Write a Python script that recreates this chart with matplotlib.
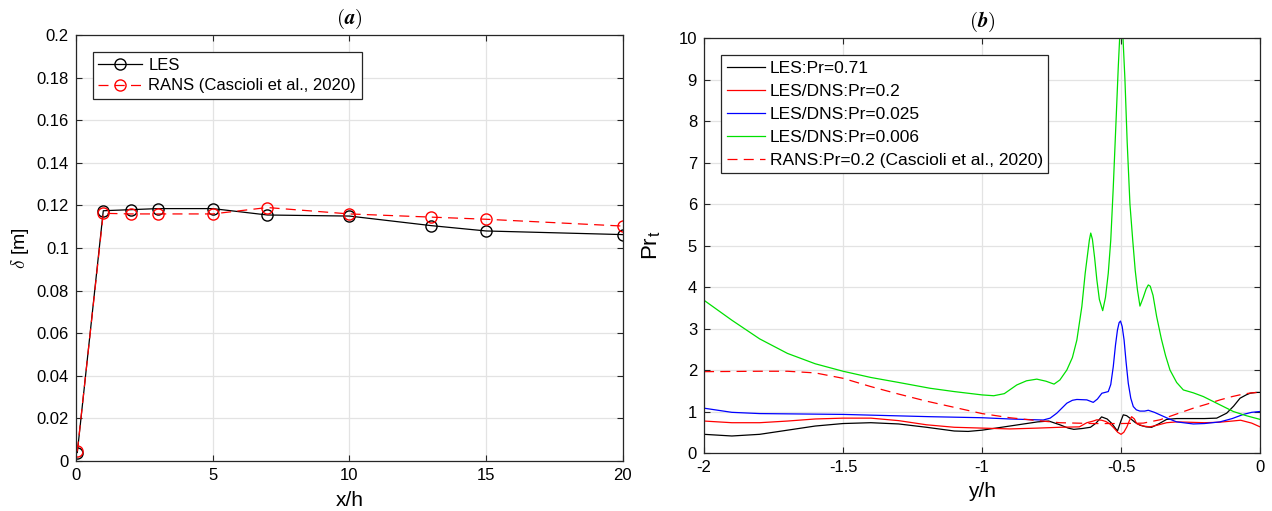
import numpy as np
import matplotlib
matplotlib.use("Agg")
import matplotlib.pyplot as plt

plt.rcParams['font.family'] = ['Liberation Sans', 'DejaVu Sans']
plt.rcParams['mathtext.fontset'] = 'cm'

# (a) boundary layer thickness
x_les = [0.05, 1, 2, 3, 5, 7, 10, 13, 15, 20]
d_les = [0.004, 0.1175, 0.118, 0.1185, 0.1185, 0.1155, 0.115, 0.1105, 0.108, 0.1063]
x_rans = [0.05, 1, 2, 3, 5, 7, 10, 13, 15, 20]
d_rans = [0.0045, 0.1163, 0.116, 0.116, 0.116, 0.119, 0.116, 0.1145, 0.1135, 0.1103]

# (b) turbulent Prandtl number
y_k = [-2.0, -1.9, -1.8, -1.7, -1.6, -1.5, -1.4, -1.3, -1.2, -1.1, -1.05, -1.0, -0.9,
       -0.8, -0.76, -0.72, -0.69, -0.67, -0.64, -0.61, -0.59, -0.57, -0.55, -0.533,
       -0.513, -0.5, -0.492, -0.48, -0.468, -0.45, -0.432, -0.41, -0.39, -0.365,
       -0.336, -0.3, -0.2, -0.156, -0.12, -0.095, -0.072, -0.05, -0.036, -0.015, 0.0]
pr_k = [0.45, 0.41, 0.45, 0.55, 0.65, 0.71, 0.73, 0.70, 0.62, 0.53, 0.52, 0.55, 0.65,
        0.75, 0.77, 0.68, 0.60, 0.57, 0.59, 0.62, 0.72, 0.87, 0.82, 0.71,
        0.53, 0.78, 0.92, 0.90, 0.84, 0.74, 0.67, 0.63, 0.62, 0.70,
        0.81, 0.83, 0.83, 0.84, 0.96, 1.13, 1.32, 1.40, 1.44, 1.46, 1.46]

y_r = [-2.0, -1.9, -1.8, -1.7, -1.6, -1.5, -1.4, -1.3, -1.2, -1.1, -1.0, -0.9,
       -0.8, -0.72, -0.65, -0.623, -0.6, -0.587, -0.57, -0.555, -0.54, -0.528,
       -0.512, -0.5, -0.49, -0.479, -0.47, -0.462, -0.452, -0.444, -0.42, -0.396,
       -0.37, -0.336, -0.3, -0.25, -0.2, -0.15, -0.1, -0.07, -0.03, 0.0]
pr_r = [0.77, 0.73, 0.73, 0.77, 0.82, 0.84, 0.84, 0.78, 0.68, 0.62, 0.60, 0.58,
        0.60, 0.62, 0.63, 0.73, 0.77, 0.80, 0.79, 0.76, 0.70, 0.62,
        0.50, 0.45, 0.50, 0.63, 0.78, 0.875, 0.82, 0.71, 0.65, 0.63,
        0.67, 0.73, 0.75, 0.74, 0.73, 0.74, 0.77, 0.79, 0.72, 0.63]

y_b = [-2.0, -1.9, -1.8, -1.5, -1.187, -1.0, -0.9, -0.78, -0.755, -0.731, -0.71,
       -0.695, -0.675, -0.659, -0.623, -0.6, -0.585, -0.569, -0.546, -0.537, -0.528,
       -0.52, -0.513, -0.507, -0.502, -0.496, -0.489, -0.482, -0.474, -0.465, -0.456,
       -0.445, -0.432, -0.415, -0.402, -0.38, -0.36, -0.33, -0.3, -0.24, -0.2,
       -0.144, -0.1, -0.06, -0.03, 0.0]
pr_b = [1.08, 0.98, 0.95, 0.93, 0.875, 0.85, 0.82, 0.795, 0.84, 0.96, 1.10,
        1.20, 1.27, 1.29, 1.28, 1.22, 1.30, 1.44, 1.48, 1.65, 2.08,
        2.60, 2.96, 3.14, 3.18, 3.05, 2.72, 2.20, 1.68, 1.32, 1.12,
        1.04, 1.01, 1.01, 1.03, 0.98, 0.92, 0.83, 0.75, 0.70, 0.71,
        0.75, 0.83, 0.93, 0.98, 1.00]

y_g = [-2.0, -1.9, -1.8, -1.7, -1.6, -1.5, -1.4, -1.3, -1.187, -1.1, -1.0, -0.958,
       -0.92, -0.875, -0.84, -0.803, -0.77, -0.741, -0.72, -0.695, -0.675, -0.659,
       -0.641, -0.629, -0.614, -0.609, -0.603, -0.595, -0.587, -0.578, -0.566, -0.556,
       -0.546, -0.537, -0.528, -0.518, -0.51, -0.505, -0.499, -0.493, -0.486, -0.478,
       -0.468, -0.458, -0.449, -0.441, -0.432, -0.42, -0.41, -0.402, -0.395, -0.385,
       -0.372, -0.355, -0.34, -0.324, -0.3, -0.276, -0.24, -0.204, -0.144, -0.096,
       -0.05, 0.0]
pr_g = [3.68, 3.20, 2.75, 2.40, 2.15, 1.97, 1.82, 1.70, 1.56, 1.48, 1.40, 1.38,
        1.43, 1.64, 1.74, 1.78, 1.73, 1.66, 1.76, 2.00, 2.30, 2.72,
        3.53, 4.33, 5.13, 5.30, 5.15, 4.70, 4.17, 3.70, 3.43, 3.75,
        4.33, 5.13, 6.40, 8.00, 9.30, 10.0, 10.3, 10.0, 9.00, 7.50,
        6.00, 5.13, 4.40, 3.93, 3.54, 3.75, 3.95, 4.05, 4.02, 3.80,
        3.29, 2.75, 2.35, 2.00, 1.70, 1.52, 1.45, 1.36, 1.16, 1.00,
        0.90, 0.81]

y_rans = [-2.0, -1.8, -1.7, -1.6, -1.5, -1.4, -1.3, -1.2, -1.1, -1.0, -0.9, -0.8,
          -0.72, -0.6, -0.5, -0.42, -0.36, -0.3, -0.24, -0.19, -0.144, -0.1, -0.06,
          -0.03, 0.0]
pr_rans = [1.96, 1.97, 1.97, 1.93, 1.80, 1.60, 1.42, 1.25, 1.10, 0.95, 0.85, 0.78,
           0.73, 0.71, 0.71, 0.72, 0.80, 0.94, 1.08, 1.18, 1.28, 1.36, 1.42,
           1.45, 1.46]

fig = plt.figure(figsize=(12.72, 5.11), dpi=100)
ax1 = fig.add_axes([0.0597, 0.0978, 0.430, 0.8337])
ax2 = fig.add_axes([0.5535, 0.1135, 0.4371, 0.8121])

for ax in (ax1, ax2):
    ax.grid(True, color='#e3e3e3', linewidth=0.9)
    ax.set_axisbelow(True)
    ax.tick_params(direction='in', top=True, right=True, labelsize=12,
                   length=4, color='#262626', pad=5)
    for s in ax.spines.values():
        s.set_color('#262626')
        s.set_linewidth(0.9)

ax1.plot(x_les, d_les, '-o', color='black', mfc='none', ms=8, lw=0.9, label='LES')
ax1.plot(x_rans, d_rans, '--o', color='red', mfc='none', ms=8, lw=0.9,
         dashes=(8, 5), label='RANS (Cascioli et al., 2020)')
ax1.set_xlim(0, 20)
ax1.set_ylim(0, 0.2)
ax1.set_xticks([0, 5, 10, 15, 20])
ax1.set_yticks(np.arange(0, 0.201, 0.02))
ax1.set_yticklabels(['0', '0.02', '0.04', '0.06', '0.08', '0.1', '0.12', '0.14',
                     '0.16', '0.18', '0.2'])
ax1.set_xlabel('x/h', fontsize=15, labelpad=6)
ax1.set_ylabel(r'$\delta$ [m]', fontsize=14, labelpad=4)
ax1.set_title(r'$\mathbf{(}\boldsymbol{a}\mathbf{)}$', fontsize=15, pad=8)
leg1 = ax1.legend(loc='upper left', fontsize=12, fancybox=False, framealpha=1,
                  edgecolor='#262626', borderaxespad=1.0, handlelength=2.6,
                  handletextpad=0.4, labelspacing=0.35, borderpad=0.35)
leg1.get_frame().set_linewidth(0.9)

ax2.plot(y_k, pr_k, color='black', lw=0.9, label='LES:Pr=0.71')
ax2.plot(y_r, pr_r, color='red', lw=0.9, label='LES/DNS:Pr=0.2')
ax2.plot(y_b, pr_b, color='blue', lw=0.9, label='LES/DNS:Pr=0.025')
ax2.plot(y_g, pr_g, color='#00e000', lw=0.9, label='LES/DNS:Pr=0.006')
ax2.plot(y_rans, pr_rans, color='red', lw=0.9, dashes=(8, 5),
         label='RANS:Pr=0.2 (Cascioli et al., 2020)')
ax2.set_xlim(-2, 0)
ax2.set_ylim(0, 10)
ax2.set_xticks([-2, -1.5, -1, -0.5, 0])
ax2.set_xticklabels(['-2', '-1.5', '-1', '-0.5', '0'])
ax2.set_yticks(range(0, 11))
ax2.set_xlabel('y/h', fontsize=15, labelpad=5)
ax2.set_ylabel(r'Pr$_\mathregular{t}$', fontsize=16, labelpad=11)
ax2.set_title(r'$\mathbf{(}\boldsymbol{b}\mathbf{)}$', fontsize=15, pad=8)
leg2 = ax2.legend(loc='upper left', fontsize=12.5, fancybox=False, framealpha=1,
                  edgecolor='#262626', borderaxespad=1.0, handlelength=2.2,
                  handletextpad=0.3, labelspacing=0.45, borderpad=0.3)
leg2.get_frame().set_linewidth(0.9)

fig.savefig('out.png', dpi=100)
